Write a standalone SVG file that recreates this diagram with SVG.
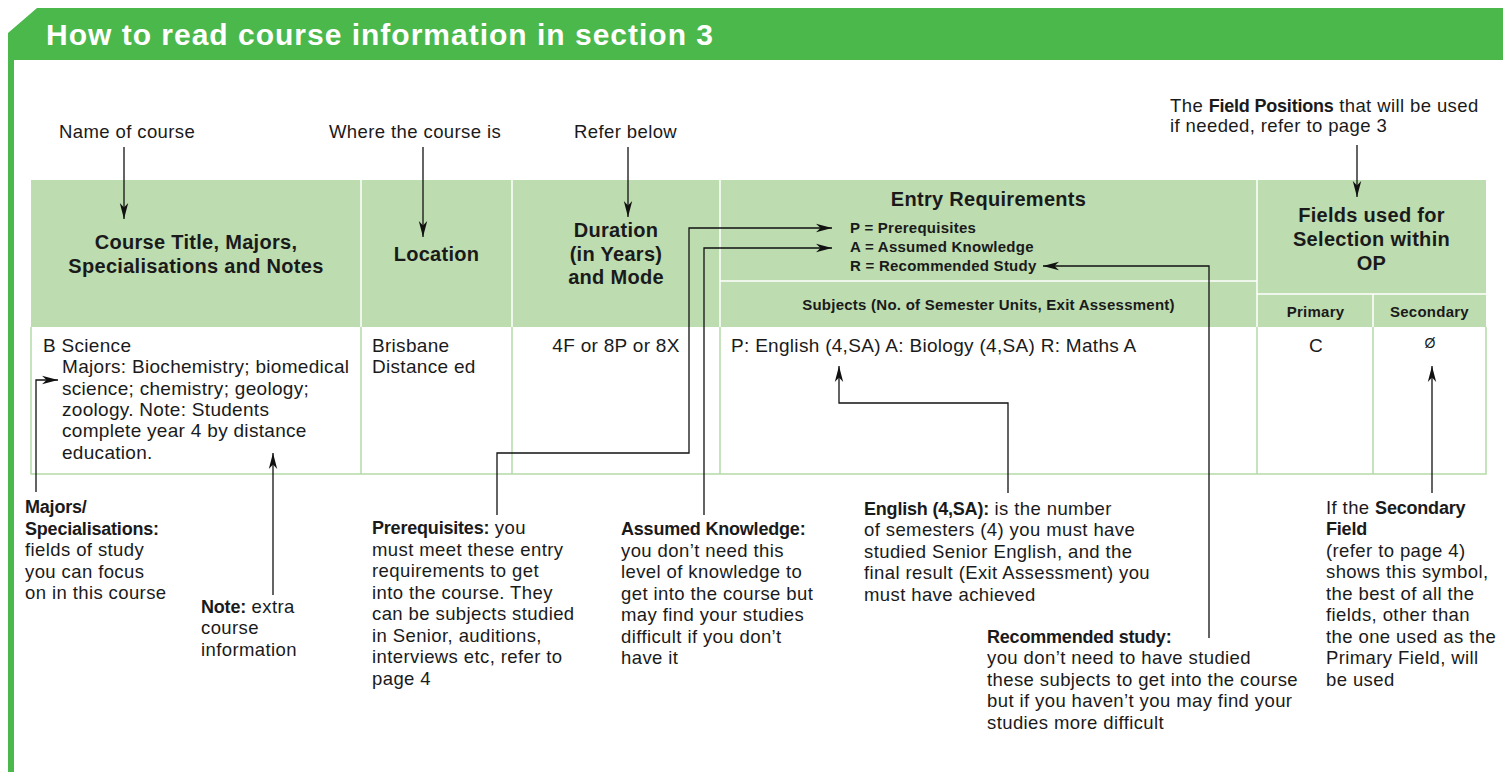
<svg xmlns="http://www.w3.org/2000/svg" width="1503" height="772" viewBox="0 0 1503 772">
<defs>
<marker id="ah" markerUnits="userSpaceOnUse" markerWidth="16" markerHeight="10" viewBox="0 0 16 10" refX="16" refY="5" orient="auto">
<path d="M0,0.8 L16,5 L0,9.2 L4.5,5 Z" fill="#111"/>
</marker>
<style>
text{font-family:"Liberation Sans",Arial,sans-serif;fill:#1a1a1a}
.lbl{font-size:18.5px;letter-spacing:0.4px}
.b{font-weight:bold;font-size:18px;letter-spacing:-0.2px}
.hd{font-size:20px;font-weight:bold;letter-spacing:0.3px;text-anchor:middle}
.sm{font-size:15px;font-weight:bold;letter-spacing:0.25px}
.body{font-size:19px;letter-spacing:0.3px}
.wl{stroke:#fff;stroke-width:1.5;fill:none}
.gl{stroke:#b5daa9;stroke-width:1.5;fill:none}
#connectors path{fill:none;stroke:#111;stroke-width:1.3;marker-end:url(#ah)}
</style>
</defs>
<rect width="1503" height="772" fill="#fff"/>

<g id="frame">
<path d="M37,8 H1503 V60 H14 V772 H8 V33 Z" fill="#4bb84b"/>
<text x="46" y="45" font-size="30" font-weight="bold" style="fill:#fff" textLength="667" lengthAdjust="spacing">How to read course information in section 3</text>
</g>

<g id="table">
<rect x="31" y="180" width="1455" height="147" fill="#bddcb0"/>
<rect x="31" y="327" width="1455" height="147" fill="#fff"/>
<path class="wl" d="M361,180 V327 M512,180 V327 M720,180 V327 M1257,180 V327 M1373,294 V327 M720,281 H1257 M1257,294 H1486"/>
<path class="gl" d="M31,327 V474 H1486 V327 M361,327 V474 M512,327 V474 M720,327 V474 M1257,327 V474 M1373,327 V474"/>
<g id="hdr-course"><text class="hd" x="196" y="249">Course Title, Majors,</text><text class="hd" x="196" y="273">Specialisations and Notes</text></g>
<g id="hdr-location"><text class="hd" x="436.5" y="261">Location</text></g>
<g id="hdr-duration"><text class="hd" x="616" y="237">Duration</text><text class="hd" x="616" y="261">(in Years)</text><text class="hd" x="616" y="284">and Mode</text></g>
<g id="hdr-entry">
<text class="hd" x="988.5" y="206">Entry Requirements</text>
<text class="sm" x="850" y="232.5">P = Prerequisites</text>
<text class="sm" x="850" y="252">A = Assumed Knowledge</text>
<text class="sm" x="850" y="271">R = Recommended Study</text>
<text class="sm" x="988.5" y="310" text-anchor="middle">Subjects (No. of Semester Units, Exit Assessment)</text>
</g>
<g id="hdr-fields">
<text class="hd" x="1371.5" y="221.5">Fields used for</text>
<text class="hd" x="1371.5" y="245.5">Selection within</text>
<text class="hd" x="1371.5" y="269.5">OP</text>
<text class="sm" x="1315.5" y="316.5" text-anchor="middle">Primary</text>
<text class="sm" x="1429.5" y="316.5" text-anchor="middle">Secondary</text>
</g>
<g id="row-course">
<text class="body" x="43" y="352">B Science</text>
<text class="body" x="62" y="373.3">Majors: Biochemistry; biomedical</text>
<text class="body" x="62" y="394.6">science; chemistry; geology;</text>
<text class="body" x="62" y="415.9">zoology. Note: Students</text>
<text class="body" x="62" y="437.2">complete year 4 by distance</text>
<text class="body" x="62" y="458.5">education.</text>
</g>
<g id="row-location"><text class="body" x="372" y="352">Brisbane</text><text class="body" x="372" y="373.3">Distance ed</text></g>
<g id="row-duration"><text class="body" x="616" y="352" text-anchor="middle">4F or 8P or 8X</text></g>
<g id="row-entry"><text class="body" x="731" y="352">P: English (4,SA) A: Biology (4,SA) R: Maths A</text></g>
<g id="row-primary"><text class="body" x="1316" y="352" text-anchor="middle">C</text></g>
<g id="row-secondary"><text x="1430" y="348" font-size="14" text-anchor="middle">Ø</text></g>
</g>

<g id="lbl-name"><text class="lbl" x="59" y="137.5">Name of course</text></g>
<g id="lbl-where"><text class="lbl" x="329" y="137.5">Where the course is</text></g>
<g id="lbl-refer"><text class="lbl" x="574" y="137.5">Refer below</text></g>
<g id="lbl-field"><text class="lbl" x="1170" y="111.5">The <tspan class="b">Field Positions</tspan> that will be used</text><text class="lbl" x="1170" y="132.3">if needed, refer to page 3</text></g>

<g id="note-majors">
<text class="b" x="25" y="513">Majors/</text>
<text class="b" x="25" y="534.5">Specialisations:</text>
<text class="lbl" x="25" y="556">fields of study</text>
<text class="lbl" x="25" y="577.5">you can focus</text>
<text class="lbl" x="25" y="599">on in this course</text>
</g>
<g id="note-note">
<text class="lbl" x="201" y="612.5"><tspan class="b">Note:</tspan> extra</text>
<text class="lbl" x="201" y="634">course</text>
<text class="lbl" x="201" y="655.5">information</text>
</g>
<g id="note-prereq">
<text class="lbl" x="372" y="534"><tspan class="b">Prerequisites:</tspan> you</text>
<text class="lbl" x="372" y="555.5">must meet these entry</text>
<text class="lbl" x="372" y="577">requirements to get</text>
<text class="lbl" x="372" y="598.5">into the course. They</text>
<text class="lbl" x="372" y="620">can be subjects studied</text>
<text class="lbl" x="372" y="641.5">in Senior, auditions,</text>
<text class="lbl" x="372" y="663">interviews etc, refer to</text>
<text class="lbl" x="372" y="684.5">page 4</text>
</g>
<g id="note-assumed">
<text class="b" x="621" y="535">Assumed Knowledge:</text>
<text class="lbl" x="621" y="556.5">you don’t need this</text>
<text class="lbl" x="621" y="578">level of knowledge to</text>
<text class="lbl" x="621" y="599.5">get into the course but</text>
<text class="lbl" x="621" y="621">may find your studies</text>
<text class="lbl" x="621" y="642.5">difficult if you don’t</text>
<text class="lbl" x="621" y="664">have it</text>
</g>
<g id="note-english">
<text class="lbl" x="864" y="514.5"><tspan class="b">English (4,SA):</tspan> is the number</text>
<text class="lbl" x="864" y="536">of semesters (4) you must have</text>
<text class="lbl" x="864" y="557.5">studied Senior English, and the</text>
<text class="lbl" x="864" y="579">final result (Exit Assessment) you</text>
<text class="lbl" x="864" y="600.5">must have achieved</text>
</g>
<g id="note-recommended">
<text class="b" x="987" y="642.5">Recommended study:</text>
<text class="lbl" x="987" y="664">you don’t need to have studied</text>
<text class="lbl" x="987" y="685.5">these subjects to get into the course</text>
<text class="lbl" x="987" y="707">but if you haven’t you may find your</text>
<text class="lbl" x="987" y="728.5">studies more difficult</text>
</g>
<g id="note-secondary">
<text class="lbl" x="1326" y="513.5">If the <tspan class="b">Secondary</tspan></text>
<text class="b" x="1326" y="535">Field</text>
<text class="lbl" x="1326" y="556.5">(refer to page 4)</text>
<text class="lbl" x="1326" y="578">shows this symbol,</text>
<text class="lbl" x="1326" y="599.5">the best of all the</text>
<text class="lbl" x="1326" y="621">fields, other than</text>
<text class="lbl" x="1326" y="642.5">the one used as the</text>
<text class="lbl" x="1326" y="664">Primary Field, will</text>
<text class="lbl" x="1326" y="685.5">be used</text>
</g>

<g id="connectors">
<path d="M124,147 V219"/>
<path d="M423,147 V237"/>
<path d="M628,147 V217"/>
<path d="M1357,145 V197"/>
<path d="M36,492 V380 H58"/>
<path d="M273,595 V453"/>
<path d="M497,515 V453 H689 V228 H832"/>
<path d="M704,515 V248 H832"/>
<path d="M1008,493 V403 H839 V366"/>
<path d="M1209,638 V266 H1043"/>
<path d="M1432,493 V366"/>
</g>
</svg>
